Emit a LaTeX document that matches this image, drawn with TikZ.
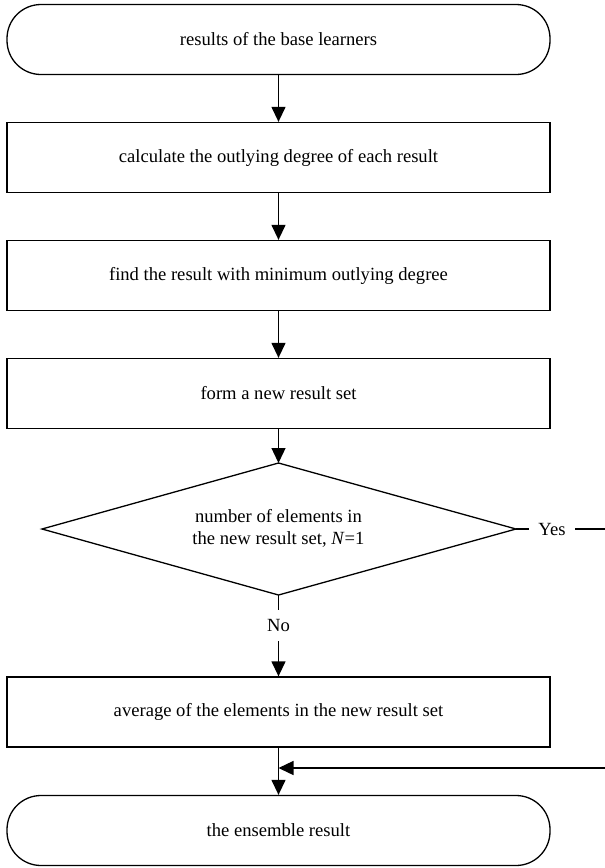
\documentclass[tikz,border=0pt]{standalone}
\usepackage{fontspec}
\setmainfont{Liberation Serif}
\usetikzlibrary{arrows.meta}
\begin{document}
\begin{tikzpicture}[x=1pt,y=-1pt, line width=1.3pt,
  every node/.style={font=\fontsize{18.6}{22}\selectfont},
  term/.style={draw, rounded corners=34pt, minimum width=543pt, minimum height=70pt, inner sep=0pt},
  proc/.style={draw, minimum width=543pt, minimum height=70pt, inner sep=0pt},
  dectext/.style={inner sep=0pt, align=center},
  lbl/.style={inner xsep=0pt, inner ysep=9pt, text height=12.4pt, text depth=0pt},
  ylbl/.style={inner xsep=9pt, inner ysep=0pt},
  arr/.style={-{Triangle[length=15pt,width=14pt]}}]
\useasboundingbox (0,0) rectangle (605,868);
\node[term] (t1) at (278.5,39.5) {results of the base learners};
\node[proc] (b1) at (278.5,157.5) {calculate the outlying degree of each result};
\node[proc] (b2) at (278.5,275.5) {find the result with minimum outlying degree};
\node[proc] (b3) at (278.5,393.5) {form a new result set};
\coordinate (dN) at (278.5,463);
\coordinate (dS) at (278.5,595);
\coordinate (dW) at (42,529);
\coordinate (dE) at (516,529);
\draw (dN) -- (dE) -- (dS) -- (dW) -- cycle;
\node[dectext] (d) at (278.5,528) {number of elements in\\the new result set, \textit{N}=1};
\node[lbl] (no) at (278.5,625.5) {No};
\node[ylbl] (yes) at (552,529) {Yes};
\node[proc] (b4) at (278.5,712) {average of the elements in the new result set};
\node[term] (t2) at (278.5,830.5) {the ensemble result};
\coordinate (e1) at (608,529);
\coordinate (e2) at (608,768);
\coordinate (j) at (278.5,768);
\draw[arr] (t1.south) -- (b1.north);
\draw[arr] (b1.south) -- (b2.north);
\draw[arr] (b2.south) -- (b3.north);
\draw[arr] (b3.south) -- (dN);
\draw (dS) -- (no.north);
\draw[arr] (no.south) -- (b4.north);
\draw (dE) -- (yes.west);
\draw (yes.east) -- (e1);
\draw[arr] (e2) -- (j);
\draw[arr] (b4.south) -- (t2.north);
\end{tikzpicture}
\end{document}
